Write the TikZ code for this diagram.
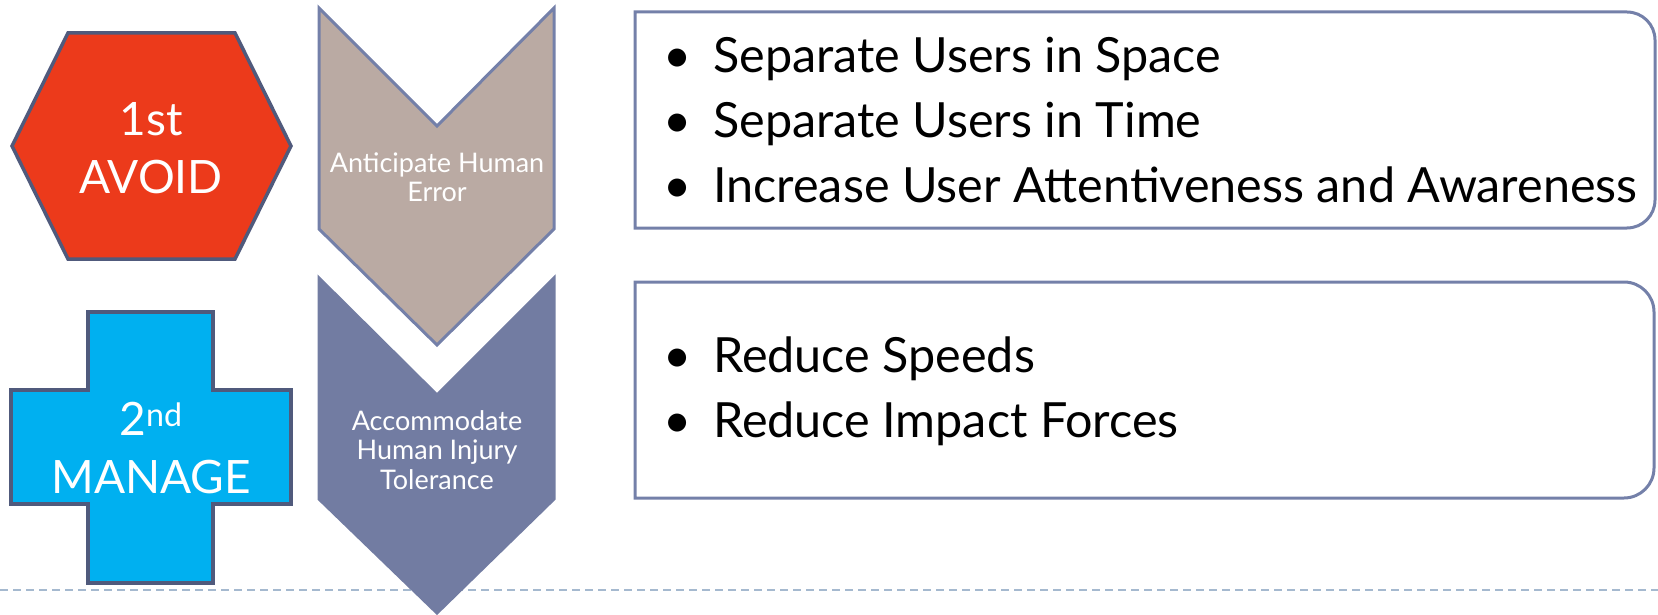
\documentclass[tikz,border=0pt]{standalone}
\usepackage{fontspec}
\setmainfont{Lato}
\usetikzlibrary{positioning}

\definecolor{avoidred}{HTML}{EC3A1B}
\definecolor{managecyan}{HTML}{00B0F0}
\definecolor{shapeedge}{HTML}{505A7C}
\definecolor{taupe}{HTML}{BAAAA3}
\definecolor{slate}{HTML}{727CA2}
\definecolor{boxedge}{HTML}{7480A9}
\definecolor{rulecol}{HTML}{A5B9CF}

\newcommand{\bigfont}{\fontsize{46}{58}\selectfont}
\newcommand{\midfont}{\fontsize{27}{29.5}\selectfont}
\newcommand{\listfont}{\fontsize{48.5}{65}\selectfont}
\newcommand{\dotitem}{\makebox[50pt][l]{\textbullet}}

\begin{document}
\begin{tikzpicture}[x=1pt,y=-1pt,
    level/.style={draw=shapeedge,line width=3.5pt,line join=miter},
    band/.style={line width=3pt,line join=miter},
    panel/.style={draw=boxedge,line width=3pt},
    tag/.style={text=white,align=center,inner sep=0pt},
    item/.style={font=\listfont,inner sep=0pt,text height=44pt,text depth=21pt}]

  \useasboundingbox (0,0) rectangle (1658,615);

  % dashed rule
  \draw[rulecol,line width=1.5pt,dash pattern=on 8pt off 5pt] (0,590) -- (1658,590);

  % left column
  \draw[level,fill=avoidred] (12,146) -- (68,33) -- (235,33) -- (291,146)
        -- (235,259) -- (68,259) -- cycle;
  \node[tag,font=\bigfont] (avoid) at (151,148) {1st\\AVOID};

  \draw[level,fill=managecyan] (88,312) -- (213,312) -- (213,390) -- (291,390)
        -- (291,504) -- (213,504) -- (213,583) -- (88,583) -- (88,504)
        -- (11,504) -- (11,390) -- (88,390) -- cycle;
  \node[tag,font=\bigfont] (manage) at (151,448) {2\textsuperscript{nd}\\MANAGE};

  % chevrons
  \draw[band,draw=slate,fill=slate] (319,278) -- (437,395) -- (554,278)
        -- (554,499) -- (437,613) -- (319,499) -- cycle;
  \draw[band,draw=boxedge,fill=taupe] (319,8) -- (437,126) -- (554,8)
        -- (554,229) -- (437,345) -- (319,229) -- cycle;
  \node[tag,font=\midfont] (anticipate) at (437,177) {Anticipate Human\\Error};
  \node[tag,font=\midfont] (accommodate) at (437,450) {Accommodate\\Human Injury\\Tolerance};

  % right panels
  \draw[panel] (635,12) -- (1627,12) arc(-90:0:28) -- (1655,200) arc(0:90:28)
        -- (635,228) -- cycle;
  \draw[panel] (635,282) -- (1624,282) arc(-90:0:30) -- (1654,468) arc(0:90:30)
        -- (635,498) -- cycle;

  \node[item,anchor=north west] (space) at (663,28) {\dotitem Separate Users in Space};
  \node[item] (time) [below=0pt of space.south west,anchor=north west] {\dotitem Separate Users in Time};
  \node[item] (aware) [below=0pt of time.south west,anchor=north west] {\dotitem Increase User Attentiveness and Awareness};

  \node[item,anchor=north west] (speeds) at (663,328) {\dotitem Reduce Speeds};
  \node[item] (forces) [below=0pt of speeds.south west,anchor=north west] {\dotitem Reduce Impact Forces};
\end{tikzpicture}
\end{document}
